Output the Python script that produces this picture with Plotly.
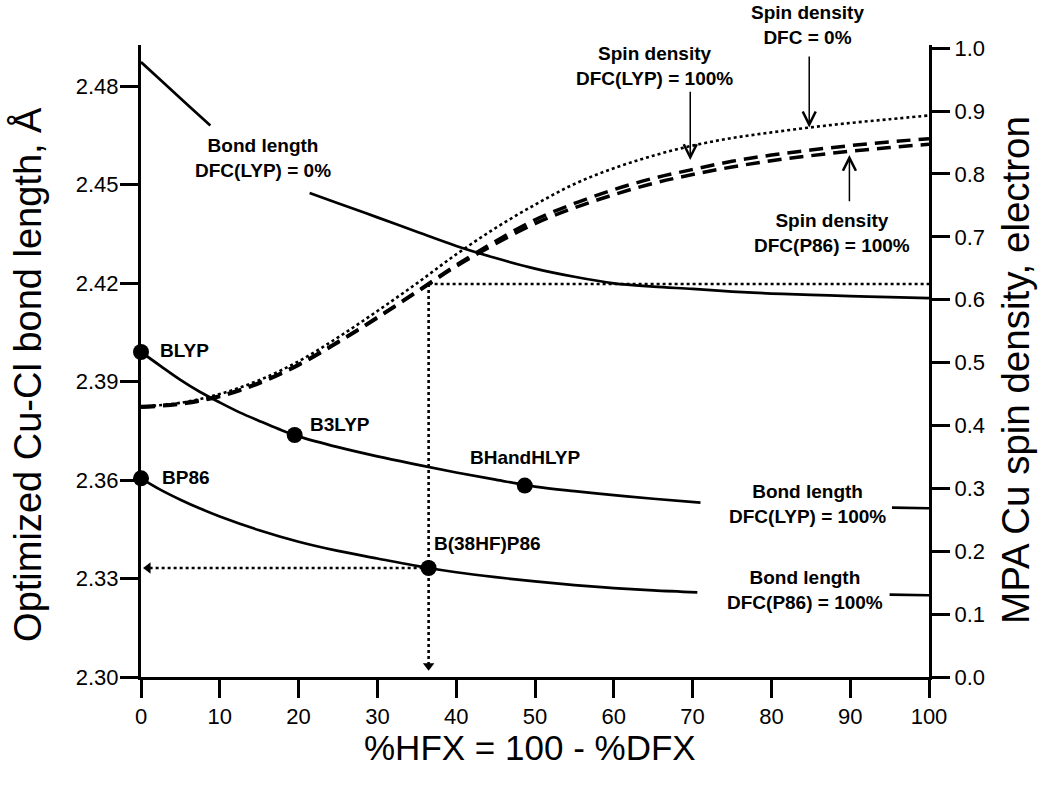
import plotly.graph_objects as go

# ---------------- data ----------------
# Bond length, DFC(LYP) = 0 %  (left axis); None = break for label
bl_lyp0_x = [0, 2, 4, 6, 8.8, None, 21.4, 25, 30, 35, 40, 45, 50, 55, 60, 65, 70, 75, 80, 85, 90, 95, 100]
bl_lyp0_y = [2.4873, 2.4829, 2.4785, 2.4741, 2.4680, None, 2.4474, 2.4443, 2.4400, 2.4356, 2.4313,
             2.4276, 2.4244, 2.4219, 2.4199, 2.4189, 2.4182, 2.4174, 2.4168, 2.4164, 2.4160, 2.4157, 2.4154]

# Bond length, DFC(LYP) = 100 %
bl_lyp100_x = [0, 2.5, 5, 7.5, 10, 12.5, 15, 17.5, 20, 25, 30, 35, 40, 45, 50, 55, 60, 65, 71, None, 95.3, 100]
bl_lyp100_y = [2.3990, 2.3947, 2.3905, 2.3868, 2.3836, 2.3806, 2.3780, 2.3755, 2.3733, 2.3700, 2.3672,
               2.3647, 2.3623, 2.3601, 2.3580, 2.3566, 2.3554, 2.3543, 2.3531, None, 2.3516, 2.3514]

# Bond length, DFC(P86) = 100 %
bl_p86_x = [0, 2.5, 5, 7.5, 10, 15, 20, 25, 30, 36.5, 40, 45, 50, 55, 60, 65, 70.6, None, 95, 100]
bl_p86_y = [2.3605, 2.3570, 2.3540, 2.3513, 2.3489, 2.3447, 2.3412, 2.3384, 2.3361, 2.3332, 2.3319,
            2.3304, 2.3291, 2.3280, 2.3271, 2.3264, 2.3258, None, 2.3251, 2.3249]

# Spin density curves (right axis)
spin_x = [0, 5, 10, 15, 20, 25, 30, 35, 40, 45, 50, 55, 60, 65, 70, 75, 80, 85, 90, 95, 100]
spin_dfc0 = [0.430, 0.436, 0.450, 0.472, 0.502, 0.540, 0.582, 0.626, 0.672, 0.714, 0.751, 0.784,
             0.809, 0.829, 0.845, 0.857, 0.866, 0.874, 0.881, 0.887, 0.893]
spin_lyp100 = [0.430, 0.435, 0.447, 0.468, 0.497, 0.533, 0.572, 0.613, 0.655, 0.693, 0.727, 0.753,
               0.775, 0.793, 0.807, 0.820, 0.830, 0.838, 0.845, 0.851, 0.856]
spin_p86 = [0.429, 0.434, 0.446, 0.467, 0.496, 0.532, 0.571, 0.612, 0.653, 0.689, 0.721, 0.746,
            0.767, 0.785, 0.799, 0.811, 0.821, 0.829, 0.836, 0.842, 0.847]

# Named functionals (points)
func_names = ["BLYP", "B3LYP", "BHandHLYP", "BP86", "B(38HF)P86"]
func_x = [0, 19.5, 48.7, 0, 36.5]
func_y = [2.3990, 2.3737, 2.3583, 2.3605, 2.3332]

# Guide lines
guide_x = 36.5
guide_spin = 0.625
guide_bond = 2.3332

# Axis ticks
x_ticks = list(range(0, 101, 10))
y_ticks = [2.30, 2.33, 2.36, 2.39, 2.42, 2.45, 2.48]
y2_ticks = [round(i * 0.1, 1) for i in range(11)]

FONT = "Liberation Sans, Arial, Helvetica, sans-serif"

fig = go.Figure()

solid = dict(color="black", width=2.7)
for xs, ys in [(bl_lyp0_x, bl_lyp0_y), (bl_lyp100_x, bl_lyp100_y), (bl_p86_x, bl_p86_y)]:
    fig.add_trace(go.Scatter(x=xs, y=ys, mode="lines", line=dict(shape="spline", **solid),
                             connectgaps=False, showlegend=False))

# spin density curves
fig.add_trace(go.Scatter(x=spin_x, y=spin_lyp100, yaxis="y2", mode="lines",
                         line=dict(color="black", width=3.5, dash="14px,8px", shape="spline"), showlegend=False))
fig.add_trace(go.Scatter(x=spin_x, y=spin_p86, yaxis="y2", mode="lines",
                         line=dict(color="black", width=3.5, dash="14px,8px", shape="spline"), showlegend=False))
fig.add_trace(go.Scatter(x=spin_x, y=spin_dfc0, yaxis="y2", mode="lines",
                         line=dict(color="black", width=2.6, dash="3px,3px", shape="spline"), showlegend=False))

# guide lines (dotted)
dot = dict(color="black", width=2.6, dash="3px,3px")
fig.add_trace(go.Scatter(x=[guide_x, 100], y=[guide_spin, guide_spin], yaxis="y2", mode="lines",
                         line=dot, showlegend=False))
fig.add_trace(go.Scatter(x=[guide_x, guide_x], y=[guide_spin, 0.02], yaxis="y2", mode="lines",
                         line=dot, showlegend=False))
fig.add_trace(go.Scatter(x=[guide_x, 1.0], y=[guide_bond, guide_bond], mode="lines",
                         line=dot, showlegend=False))
# arrow heads of guides
fig.add_trace(go.Scatter(x=[guide_x], y=[0.018], yaxis="y2", mode="markers",
                         marker=dict(symbol="triangle-down", size=10, color="black"), showlegend=False,
                         cliponaxis=False))
fig.add_trace(go.Scatter(x=[0.9], y=[guide_bond], mode="markers",
                         marker=dict(symbol="triangle-left", size=10, color="black"), showlegend=False,
                         cliponaxis=False))

# functional points
fig.add_trace(go.Scatter(x=func_x, y=func_y, mode="markers",
                         marker=dict(symbol="circle", size=16, color="black"), showlegend=False,
                         cliponaxis=False))

ann = []
lab_font = dict(family=FONT, size=19, color="black", weight="bold")
label_pos = {
    "BLYP": (2.2, 2.3996),
    "B3LYP": (21.2, 2.3768),
    "BHandHLYP": (41.5, 2.3670),
    "BP86": (2.4, 2.3609),
    "B(38HF)P86": (36.9, 2.3408),
}
for name in func_names:
    lx, ly = label_pos[name]
    ann.append(dict(x=lx, y=ly, xref="x", yref="y", text=name, showarrow=False,
                    xanchor="left", yanchor="middle", font=lab_font))

# curve labels (x in data units, y in axis or paper units)
curve_labels = [
    ("Bond length<br>DFC(LYP) = 0%", 15.5, 2.4581, "y"),
    ("Bond length<br>DFC(LYP) = 100%", 84.6, 2.3527, "y"),
    ("Bond length<br>DFC(P86) = 100%", 84.3, 2.3265, "y"),
    ("Spin density<br>DFC = 0%", 84.6, 1.0315, "paper"),
    ("Spin density<br>DFC(LYP) = 100%", 65.2, 0.971, "y2"),
    ("Spin density<br>DFC(P86) = 100%", 87.7, 0.706, "y2"),
]
for t, lx, ly, yr in curve_labels:
    ann.append(dict(x=lx, y=ly, xref="x", yref=yr, text=t, showarrow=False,
                    xanchor="center", yanchor="middle", font=lab_font))

# pointer arrows (x, head, tail) on spin axis
arrows = [(84.8, 0.874, 0.989), (69.7, 0.822, 0.933), (89.9, 0.830, 0.754)]
for axx, head, tail in arrows:
    ann.append(dict(x=axx, y=head, xref="x", yref="y2", ax=axx, ay=tail, axref="x", ayref="y2",
                    text="", showarrow=True, arrowhead=5, arrowsize=1.7, arrowwidth=1.5,
                    arrowcolor="black", standoff=0))

# axis titles
ann.append(dict(x=0.4937, y=-0.1123, xref="paper", yref="paper", text="%HFX = 100 - %DFX",
                showarrow=False, xanchor="center", yanchor="middle",
                font=dict(family=FONT, size=35, color="black")))
ann.append(dict(x=-0.1434, y=0.478, xref="paper", yref="paper", text="Optimized Cu-Cl bond length, Å",
                showarrow=False, xanchor="center", yanchor="middle", textangle=-90,
                font=dict(family=FONT, size=38, color="black")))
ann.append(dict(x=1.1105, y=0.486, xref="paper", yref="paper", text="MPA Cu spin density, electron",
                showarrow=False, xanchor="center", yanchor="middle", textangle=-90,
                font=dict(family=FONT, size=38.5, color="black")))

axis_common = dict(showline=True, linewidth=3, linecolor="black", ticks="outside", ticklen=18,
                   tickwidth=3, tickcolor="black", showgrid=False, zeroline=False,
                   tickfont=dict(family=FONT, size=22, color="black"))

fig.update_layout(
    width=1050, height=786,
    margin=dict(l=141, r=121, t=45, b=109, pad=0),
    paper_bgcolor="white", plot_bgcolor="white",
    showlegend=False,
    annotations=ann,
    xaxis=dict(range=[0, 100], tickvals=x_ticks, **axis_common),
    yaxis=dict(range=[2.30, 2.4925], tickvals=y_ticks, ticktext=[f"{v:.2f}" for v in y_ticks],
               ticklabelstandoff=-3, **axis_common),
    yaxis2=dict(range=[0, 1.005], tickvals=y2_ticks, ticktext=[f"{v:.1f}" for v in y2_ticks],
                overlaying="y", side="right", **axis_common),
)

fig.write_html("out.html", config={"displayModeBar": False},
               post_script="document.body.style.margin='0px';")
